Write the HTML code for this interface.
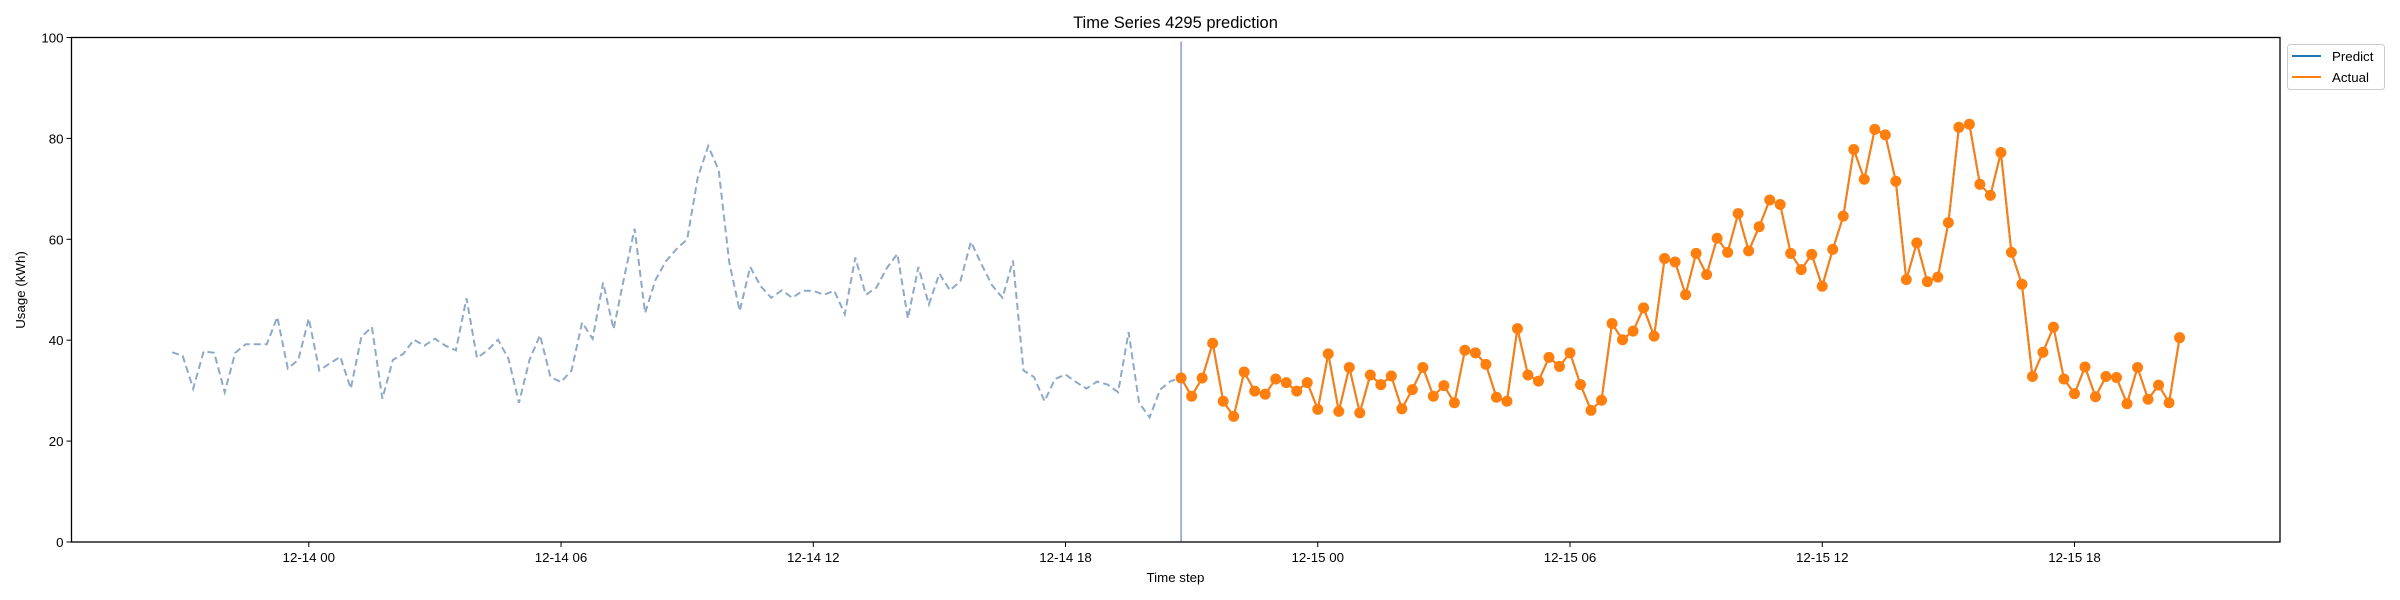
<!DOCTYPE html>
<html><head><meta charset="utf-8"><style>
html,body{margin:0;padding:0;background:#fff;}
svg{display:block;font-family:"Liberation Sans",sans-serif;}
</style></head><body>
<svg id="chart" width="2400" height="600" viewBox="0 0 2400 600">
<rect width="2400" height="600" fill="#fff"/>
<text x="1175.5" y="28" text-anchor="middle" font-size="16.5">Time Series 4295 prediction</text>
<g id="plot"></g>
<rect x="71.5" y="37.5" width="2208.5" height="504.5" fill="none" stroke="#000" stroke-width="1.3"/>
<g id="xticks"></g>
<g id="yticks"></g>
<text x="1175.5" y="582" text-anchor="middle" font-size="13.3">Time step</text>
<text transform="translate(25,290) rotate(-90)" text-anchor="middle" font-size="13.3">Usage (kWh)</text>
<g>
<rect x="2287.5" y="44.5" width="97" height="45" rx="3" fill="#fff" stroke="#ccc"/>
<line x1="2292" y1="56" x2="2321" y2="56" stroke="#1f77b4" stroke-width="2"/>
<text x="2332" y="61" font-size="13.3">Predict</text>
<line x1="2292" y1="77" x2="2321" y2="77" stroke="#ff7f0e" stroke-width="2"/>
<text x="2332" y="82" font-size="13.3">Actual</text>
</g>
</svg>
<script>
const history = [37.6,36.9,30.4,37.8,37.5,29.7,37.5,39.2,39.2,39.2,44.6,34.4,36.1,44.3,34.0,35.4,36.7,30.4,40.7,42.6,28.4,36.1,37.3,40.1,38.9,40.3,38.9,38.0,48.3,36.5,38.0,40.1,36.3,27.6,36.1,41.0,32.7,31.7,34.0,43.5,40.3,51.4,42.2,52.4,62.1,45.4,52.0,55.7,58.1,60.0,72.2,78.5,73.7,55.5,45.8,54.5,50.7,48.4,49.9,48.4,49.8,49.8,49.0,49.8,45.2,56.4,49.0,50.4,54.3,57.1,44.3,54.5,47.1,53.2,49.9,51.7,59.5,55.1,50.9,48.4,55.8,34.0,32.7,27.9,32.3,33.2,31.7,30.4,31.8,31.2,29.7,41.6,27.6,24.7,30.2,31.9,32.5];
const actual = [32.5,28.9,32.5,39.4,27.9,24.9,33.7,29.9,29.3,32.3,31.6,29.9,31.6,26.3,37.3,25.9,34.6,25.6,33.1,31.2,32.9,26.4,30.2,34.6,28.9,31.0,27.6,38.0,37.5,35.2,28.7,27.9,42.3,33.1,31.9,36.6,34.8,37.5,31.2,26.1,28.1,43.3,40.1,41.8,46.4,40.8,56.2,55.5,49.0,57.2,53.0,60.2,57.4,65.1,57.7,62.5,67.8,66.9,57.2,54.0,57.0,50.7,58.0,64.6,77.8,71.9,81.8,80.7,71.5,52.0,59.3,51.6,52.5,63.3,82.2,82.8,70.9,68.7,77.2,57.4,51.1,32.8,37.6,42.6,32.3,29.4,34.7,28.8,32.8,32.6,27.4,34.6,28.3,31.1,27.6,40.5];
const historyStartHour = -3.25;
const actualStartHour = 20.75;
const stepHours = 0.25;
const xTickHours = [0,6,12,18,24,30,36,42];
const xTickLabels = ["12-14 00","12-14 06","12-14 12","12-14 18","12-15 00","12-15 06","12-15 12","12-15 18"];
const yTicks = [0,20,40,60,80,100];

const NS = "http://www.w3.org/2000/svg";
const X0 = 71.5, X1 = 2280, Y0 = 37.5, Y1 = 542;
function xs(h){ return 308.8 + h*42.04; }
function ys(v){ return Y1 - (v/100)*(Y1-Y0); }
function mk(tag, attrs, parent){ const e=document.createElementNS(NS,tag); for(const k in attrs) e.setAttribute(k,attrs[k]); parent.appendChild(e); return e; }

const plot = document.getElementById('plot');
const xt = document.getElementById('xticks');
const yt = document.getElementById('yticks');

xTickHours.forEach((h,i)=>{
  const x = xs(h);
  const t = mk('line',{x1:x,y1:Y1,x2:x,y2:Y1+5,stroke:'#000','stroke-width':1},xt);
  
  
  const l = mk('text',{x:x,y:Y1+20,'text-anchor':'middle','font-size':13.3},xt);
  l.textContent = xTickLabels[i];
  
  
});
yTicks.forEach(v=>{
  const y = ys(v);
  const t = mk('line',{x1:X0-5,y1:y,x2:X0,y2:y,stroke:'#000','stroke-width':1},yt);
  
  
  const l = mk('text',{x:X0-8,y:y+5,'text-anchor':'end','font-size':13.3},yt);
  l.textContent = String(v);
  
  
});

const hp = history.map((v,i)=>xs(historyStartHour+i*stepHours).toFixed(1)+','+ys(v).toFixed(1)).join(' ');
const hl = mk('polyline',{points:hp,fill:'none',stroke:'#8fa9c8','stroke-width':2,'stroke-dasharray':'7,4'},plot);



const vx = xs(actualStartHour);
const vl = mk('line',{x1:vx,y1:Y0+4,x2:vx,y2:Y1,stroke:'#9aaad0','stroke-width':1.8},plot);



const ap = actual.map((v,i)=>xs(actualStartHour+i*stepHours).toFixed(1)+','+ys(v).toFixed(1)).join(' ');
const pl = mk('polyline',{points:ap,fill:'none',stroke:'#1f77b4','stroke-width':2},plot);


const al = mk('polyline',{points:ap,fill:'none',stroke:'#ff7f0e','stroke-width':2},plot);


actual.forEach((v,i)=>{
  const c = mk('circle',{cx:xs(actualStartHour+i*stepHours),cy:ys(v),r:5.5,fill:'#ff7f0e'},plot);
  
  
});
</script>
</body></html>
